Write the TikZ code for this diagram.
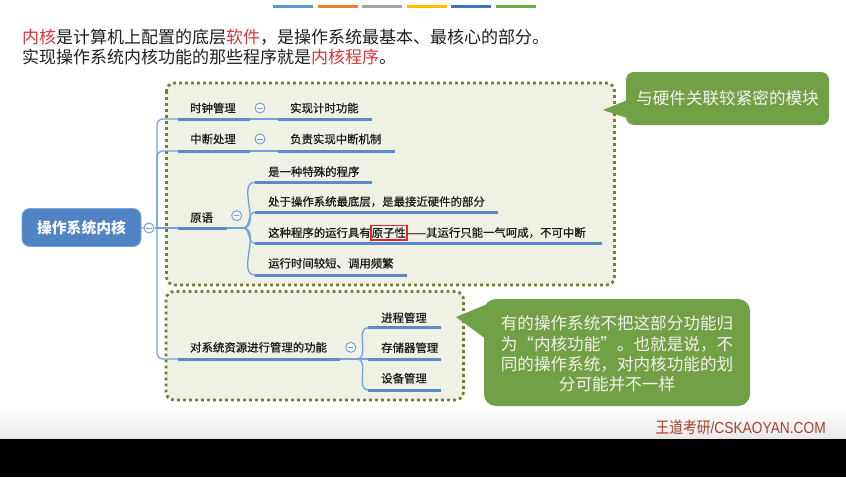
\documentclass[tikz,border=0pt]{standalone}
\usepackage{fontspec}
\setmainfont{Noto Sans CJK SC}
\newfontfamily\mmfont{Noto Sans CJK SC}[FakeBold=0.7]
\newfontfamily\latinwm{Liberation Sans}
\definecolor{mmblue}{HTML}{5A8ACA}
\definecolor{lineblue}{HTML}{74A2D8}
\definecolor{rootblue}{HTML}{4F83C4}
\definecolor{olive}{HTML}{727F2C}
\definecolor{boxfill}{HTML}{EEF1E4}
\definecolor{calgreen}{HTML}{71A046}
\definecolor{calltext}{HTML}{F4F4EA}
\definecolor{redtxt}{HTML}{D6373A}
\definecolor{boxred}{HTML}{E0262C}
\definecolor{wmred}{HTML}{A6432C}
\definecolor{barA}{HTML}{5B9BD5}
\definecolor{barB}{HTML}{ED7D31}
\definecolor{barC}{HTML}{A5A5A5}
\definecolor{barD}{HTML}{FFC000}
\definecolor{barE}{HTML}{4472C4}
\definecolor{barF}{HTML}{70AD47}
\tikzset{
  lbl/.style={anchor=west,inner sep=0pt,text=black!90,font=\mmfont\fontsize{11.4}{13}\selectfont},
  uline/.style={line width=3pt,mmblue},
  conn/.style={line width=1.3pt,lineblue},
  cbtn/.style={circle,draw=lineblue,fill=white,line width=1pt,minimum size=10pt,inner sep=0pt,
    path picture={\draw[line width=0.8pt,lineblue]
      ([xshift=-2.6pt]path picture bounding box.center) -- ([xshift=2.6pt]path picture bounding box.center);}},
  dotbox/.style={draw=olive,fill=boxfill,line width=2.8pt,dash pattern=on 2.8pt off 3.2pt,rounded corners=8pt},
  ctext/.style={text=calltext,align=center,inner sep=0pt,font=\fontsize{16.6}{20.3}\selectfont},
  rootbox/.style={rounded corners=8pt,fill=rootblue,draw=rootblue!75!white,line width=0.8pt,
    minimum width=119pt,minimum height=38pt,text=white,font=\fontsize{14.8}{16}\selectfont\bfseries},
  toptext/.style={anchor=west,inner sep=0pt,text=black!88,font=\fontsize{17}{20}\selectfont},
  bar/.style={line width=3pt},
  redframe/.style={draw=boxred,line width=1.4pt}
}
\begin{document}
\begin{tikzpicture}[x=1pt,y=-1pt]
\useasboundingbox (0,0) rectangle (846,477);
\fill[white] (0,0) rectangle (846,439);
\shade[top color=white,bottom color=black!9] (0,408) rectangle (846,439);
\fill[black] (0,439) rectangle (846,477);

% colour bars
\draw[bar,barA] (273,6.5) -- (313,6.5);
\draw[bar,barB] (317.6,6.5) -- (357.6,6.5);
\draw[bar,barC] (362.2,6.5) -- (402.2,6.5);
\draw[bar,barD] (406.8,6.5) -- (446.8,6.5);
\draw[bar,barE] (451.4,6.5) -- (491.4,6.5);
\draw[bar,barF] (496,6.5) -- (536,6.5);

% heading text
\node[toptext] (t1) at (22,37.5) {\textcolor{redtxt}{内核}是计算机上配置的底层\textcolor{redtxt}{软件}，是操作系统最基本、最核心的部分。};
\node[toptext] (t2) at (22,57.5) {实现操作系统内核功能的那些程序就是\textcolor{redtxt}{内核程序}。};

% dotted group boxes
\draw[dotbox] (166.5,83) rectangle (614.5,285);
\draw[dotbox] (166,291.5) rectangle (463.5,400);

% callouts
\fill[calgreen] (603,110) -- (630,99) -- (630,119) -- cycle;
\fill[calgreen,rounded corners=8pt] (626,72) rectangle (829,125);
\node[ctext] (c1) at (727.5,98.5) {与硬件关联较紧密的模块};

\fill[calgreen] (456,317) -- (490,303) -- (490,342) -- cycle;
\fill[calgreen,rounded corners=12pt] (484,299) rectangle (750,406);
\node[ctext] (c2) at (617,354) {有的操作系统不把这部分功能归\\为“内核功能”。也就是说，不\\同的操作系统，对内核功能的划\\分可能并不一样};

% root
\node[rootbox] (root) at (81.5,227.5) {操作系统内核};
\node[cbtn] (rc) at (149,228) {};
\coordinate (hub) at (157,228);
\draw[conn] (root.east) -- (rc.west);
\draw[conn] (rc.east) -- (hub);

% branch 1
\coordinate (a1) at (178,119); \coordinate (a2) at (250,119);
\coordinate (a3) at (278,119); \coordinate (a4) at (372,119);
\draw[conn,rounded corners=6pt] (hub) |- (a1);
\draw[conn] (a2) -- (a3);
\draw[uline] (a1) -- (a2);
\draw[uline] (a3) -- (a4);
\node[lbl] (n1) at (190,108) {时钟管理};
\node[cbtn] (b1) at (260,108) {};
\node[lbl] (n1c) at (290,108) {实现计时功能};

% branch 2
\coordinate (d1) at (178,151); \coordinate (d2) at (250,151);
\coordinate (d3) at (278,151); \coordinate (d4) at (395,151);
\draw[conn,rounded corners=6pt] (hub) |- (d1);
\draw[conn] (d2) -- (d3);
\draw[uline] (d1) -- (d2);
\draw[uline] (d3) -- (d4);
\node[lbl] (n2) at (190,139) {中断处理};
\node[cbtn] (b2) at (260,139) {};
\node[lbl] (n2c) at (290,139) {负责实现中断机制};

% branch 3
\coordinate (e1) at (178,228); \coordinate (e2) at (227,228);
\coordinate (ej) at (243,228);
\draw[conn] (hub) -- (e1);
\draw[conn] (e2) -- (ej);
\draw[uline] (e1) -- (e2);
\node[lbl] (n3) at (190,217.7) {原语};
\node[cbtn] (b3) at (236.7,215.7) {};
\coordinate (f1a) at (255,182.3); \coordinate (f1b) at (372,182.3);
\coordinate (f2a) at (255,212.3); \coordinate (f2b) at (498,212.3);
\coordinate (f3a) at (255,243.3); \coordinate (f3b) at (602,243.3);
\coordinate (f4a) at (255,275);   \coordinate (f4b) at (407,275);
\foreach \c in {f1a,f2a,f3a,f4a}{\draw[conn] (ej) to[out=0,in=180] (\c);}
\draw[uline] (f1a) -- (f1b);
\draw[uline] (f2a) -- (f2b);
\draw[uline] (f3a) -- (f3b);
\draw[uline] (f4a) -- (f4b);
\node[lbl] (m1) at (268,171.7) {是一种特殊的程序};
\node[lbl] (m2) at (268,201.7) {处于操作系统最底层，是最接近硬件的部分};
\node[lbl] (m3a) at (268,232.7) {这种程序的运行具有};
\node[lbl,inner xsep=0.6pt,inner ysep=1.8pt] (m3b) at (m3a.east) {原子性};
\draw[redframe] (m3b.north west) rectangle (m3b.south east);
\node[lbl] (m3c) at (m3b.east) {——其运行只能一气呵成，不可中断};
\node[lbl] (m4) at (268,263.3) {运行时间较短、调用频繁};

% branch 4
\coordinate (g1) at (178,359); \coordinate (g2) at (340,359);
\coordinate (gj) at (357,359);
\draw[conn,rounded corners=6pt] (hub) |- (g1);
\draw[conn] (g2) -- (gj);
\draw[uline] (g1) -- (g2);
\node[lbl] (n4) at (190,347.3) {对系统资源进行管理的功能};
\node[cbtn] (b4) at (350.8,347.3) {};
\coordinate (h1a) at (368,327.7); \coordinate (h1b) at (441,327.7);
\coordinate (h2a) at (368,359);   \coordinate (h2b) at (441,359);
\coordinate (h3a) at (368,390);   \coordinate (h3b) at (441,390);
\foreach \c in {h1a,h2a,h3a}{\draw[conn] (gj) to[out=0,in=180] (\c);}
\draw[uline] (h1a) -- (h1b);
\draw[uline] (h2a) -- (h2b);
\draw[uline] (h3a) -- (h3b);
\node[lbl] (k1) at (381,317.7) {进程管理};
\node[lbl] (k2) at (381,347.7) {存储器管理};
\node[lbl] (k3) at (381,378.3) {设备管理};

% watermark
\node[anchor=east,inner sep=0pt,text=wmred] (wm) at (826,427)
  {\scalebox{0.86}[1]{\fontsize{16}{16}\selectfont 王道考研{\latinwm /CSKAOYAN.COM}}};
\end{tikzpicture}
\end{document}
